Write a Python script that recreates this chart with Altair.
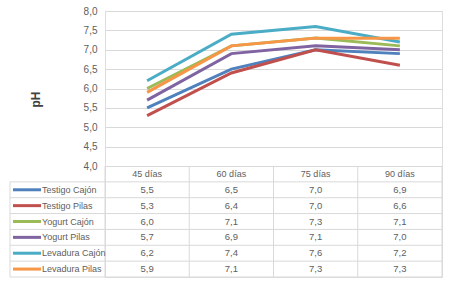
import altair as alt
import pandas as pd

days = ["45 días", "60 días", "75 días", "90 días"]
series = ["Testigo Cajón", "Testigo Pilas", "Yogurt Cajón", "Yogurt Pilas",
          "Levadura Cajón", "Levadura Pilas"]
testigo_cajon = [5.5, 6.5, 7.0, 6.9]
testigo_pilas = [5.3, 6.4, 7.0, 6.6]
yogurt_cajon = [6.0, 7.1, 7.3, 7.1]
yogurt_pilas = [5.7, 6.9, 7.1, 7.0]
levadura_cajon = [6.2, 7.4, 7.6, 7.2]
levadura_pilas = [5.9, 7.1, 7.3, 7.3]
y_ticks = [4.0, 4.5, 5.0, 5.5, 6.0, 6.5, 7.0, 7.5, 8.0]
y_title = "pH"

colors = ["#4F81BD", "#C0504D", "#9BBB59", "#8064A2", "#4BACC6", "#F79646"]
FONT = "Liberation Sans"
TXT = "#606060"
GRID = "#d9d9d9"

values = [testigo_cajon, testigo_pilas, yogurt_cajon, yogurt_pilas,
          levadura_cajon, levadura_pilas]
long = pd.DataFrame(
    [{"series": s, "day": d, "value": v}
     for s, vals in zip(series, values) for d, v in zip(days, vals)]
)
rows = ["header"] + series

x_scale = alt.Scale(type="band", domain=days, paddingInner=0, paddingOuter=0)
row_scale = alt.Scale(type="band", domain=rows, range=[155, 266],
                      paddingInner=0, paddingOuter=0)
ph_scale = alt.Scale(domain=[4, 8], range=[155, 0], nice=False, zero=False)
color = alt.Color("series:N", scale=alt.Scale(domain=series, range=colors), legend=None)

lines = alt.Chart(long).mark_line(strokeWidth=3).encode(
    x=alt.X("day:N", scale=x_scale, bandPosition=0.5, axis=None),
    y=alt.Y("value:Q", scale=ph_scale,
            axis=alt.Axis(values=y_ticks, title=y_title, grid=True, gridColor=GRID,
                          domain=False, ticks=False, labelPadding=8,
                          labelExpr="replace(format(datum.value, '.1f'), '.', ',')",
                          labelFont=FONT, labelFontSize=10, labelColor=TXT,
                          titleFont=FONT, titleFontSize=12, titleFontWeight="bold",
                          titleColor="#404040", titleAngle=270, titleAlign="center",
                          titleBaseline="middle", titleX=-70, titleY=88)),
    color=color,
    detail="series:N",
)

hl = alt.Chart(pd.DataFrame({"row": series})).mark_rule(color=GRID, strokeWidth=1).encode(
    y=alt.Y("row:N", scale=row_scale, bandPosition=0, axis=None),
    x=alt.value(-95), x2=alt.value(337),
)
hl_bottom = alt.Chart(pd.DataFrame({"row": [series[-1]]})).mark_rule(color=GRID, strokeWidth=1).encode(
    y=alt.Y("row:N", scale=row_scale, bandPosition=1, axis=None),
    x=alt.value(-95), x2=alt.value(337),
)
vl = alt.Chart(pd.DataFrame({"day": days})).mark_rule(color=GRID, strokeWidth=1).encode(
    x=alt.X("day:N", scale=x_scale, bandPosition=0, axis=None),
    y=alt.value(155), y2=alt.value(266),
)
vl_end = alt.Chart(pd.DataFrame({"day": [days[-1]]})).mark_rule(color=GRID, strokeWidth=1).encode(
    x=alt.X("day:N", scale=x_scale, bandPosition=1, axis=None),
    y=alt.value(155), y2=alt.value(266),
)
vl_left = alt.Chart(pd.DataFrame({"row": [series[0]]})).mark_rule(color=GRID, strokeWidth=1).encode(
    y=alt.Y("row:N", scale=row_scale, bandPosition=0, axis=None),
    y2=alt.value(266), x=alt.value(-95),
)

header = alt.Chart(pd.DataFrame({"day": days, "row": ["header"] * 4})).mark_text(
    font=FONT, fontSize=9, fontWeight="normal", color=TXT, align="center", baseline="middle"
).encode(
    x=alt.X("day:N", scale=x_scale, bandPosition=0.5, axis=None),
    y=alt.Y("row:N", scale=row_scale, bandPosition=0.5, axis=None),
    text="day:N",
)

cells = alt.Chart(long).transform_calculate(
    label="replace(format(datum.value, '.1f'), '.', ',')"
).mark_text(font=FONT, fontSize=9.5, fontWeight="normal", color=TXT,
            align="center", baseline="middle").encode(
    x=alt.X("day:N", scale=x_scale, bandPosition=0.5, axis=None),
    y=alt.Y("series:N", scale=row_scale, bandPosition=0.5, axis=None),
    text="label:N",
)

names = alt.Chart(pd.DataFrame({"series": series})).mark_text(
    font=FONT, fontSize=9, fontWeight="normal", color=TXT, align="left", baseline="middle"
).encode(
    x=alt.value(-63),
    y=alt.Y("series:N", scale=row_scale, bandPosition=0.5, axis=None),
    text="series:N",
)

swatches = alt.Chart(pd.DataFrame({"series": series})).mark_rule(strokeWidth=3).encode(
    x=alt.value(-92), x2=alt.value(-64),
    y=alt.Y("series:N", scale=row_scale, bandPosition=0.5, axis=None),
    color=color,
)

chart = alt.layer(
    lines, hl, hl_bottom, vl, vl_end, vl_left, header, cells, names, swatches
).resolve_scale(y="independent").properties(
    width=337, height=266,
    autosize=alt.AutoSizeParams(type="none"),
    padding={"left": 105, "top": 11, "right": 9, "bottom": 6},
).configure_view(stroke=None).configure(background="white")

chart.save("out.html", embed_options={"renderer": "svg", "actions": False})
